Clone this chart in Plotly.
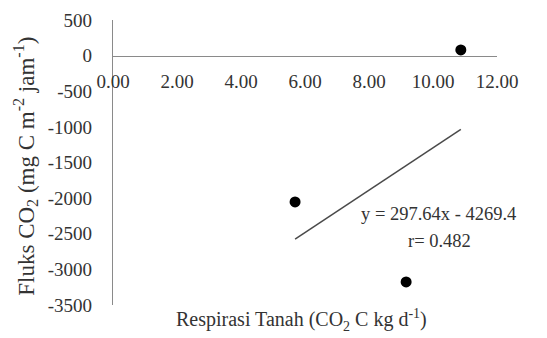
import plotly.graph_objects as go

# Data
respirasi = [10.87, 5.69, 9.16]          # x: Respirasi Tanah (CO2 C kg d-1)
fluks = [80, -2054, -3176]               # y: Fluks CO2 (mg C m-2 jam-1)
trend_coef = [297.64, -4269.4]           # slope, intercept
r_value = 0.482
x_ticks = [0, 2, 4, 6, 8, 10, 12]
x_tick_labels = ["0.00", "2.00", "4.00", "6.00", "8.00", "10.00", "12.00"]
y_ticks = [500, 0, -500, -1000, -1500, -2000, -2500, -3000, -3500]
y_tick_labels = ["500", "0", "-500", "-1000", "-1500", "-2000", "-2500", "-3000", "-3500"]

FONT = "Liberation Serif, serif"
TXT = "#333333"
AX = "#8a8a8a"

tx = [min(respirasi), max(respirasi)]
ty = [trend_coef[0] * v + trend_coef[1] for v in tx]

fig = go.Figure()
fig.add_trace(go.Scatter(x=tx, y=ty, mode="lines",
                         line=dict(color="#4a4a4a", width=1.5),
                         hoverinfo="skip", showlegend=False))
fig.add_trace(go.Scatter(x=respirasi, y=fluks, mode="markers",
                         marker=dict(color="black", size=11),
                         showlegend=False, cliponaxis=False))

y_min, y_max = -3500, 500
zero_pos = (0 - y_min) / (y_max - y_min)

fig.update_layout(
    template="none",
    width=547, height=338,
    margin=dict(l=113, r=50, t=20, b=33, autoexpand=False),
    paper_bgcolor="white", plot_bgcolor="white",
    font=dict(family=FONT, size=19, color=TXT),
    xaxis=dict(range=[0, 12], tickmode="array", tickvals=x_ticks, ticktext=x_tick_labels,
               anchor="free", position=zero_pos, automargin=False,
               showline=True, linecolor=AX, linewidth=1.3,
               showgrid=False, zeroline=False,
               ticks="outside", ticklen=8, tickcolor="rgba(0,0,0,0)",
               tickfont=dict(family=FONT, size=19, color=TXT)),
    yaxis=dict(range=[y_min, y_max], tickmode="array", tickvals=y_ticks, ticktext=y_tick_labels,
               automargin=False,
               showline=True, linecolor=AX, linewidth=1.3,
               showgrid=False, zeroline=False,
               ticks="outside", ticklen=16, tickcolor="rgba(0,0,0,0)",
               tickfont=dict(family=FONT, size=19, color=TXT)),
    annotations=[
        dict(text="Respirasi Tanah (CO<sub>2</sub> C kg d<sup>-1</sup>)",
             xref="paper", yref="paper", x=0.492, y=-0.053,
             xanchor="center", yanchor="middle", showarrow=False,
             font=dict(family=FONT, size=20, color=TXT)),
        dict(text="Fluks CO<sub>2</sub> (mg C m<sup>-2</sup> jam<sup>-1</sup>)",
             xref="paper", yref="paper", x=-0.227, y=0.488, textangle=-90,
             xanchor="center", yanchor="middle", showarrow=False,
             font=dict(family=FONT, size=23, color=TXT)),
        dict(text=f"y = {trend_coef[0]}x - {abs(trend_coef[1])}",
             xref="paper", yref="paper", x=1.055, y=0.32,
             xanchor="right", yanchor="middle", showarrow=False,
             font=dict(family=FONT, size=18.5, color=TXT)),
        dict(text=f"r= {r_value}",
             xref="paper", yref="paper", x=0.85, y=0.225,
             xanchor="center", yanchor="middle", showarrow=False,
             font=dict(family=FONT, size=18.5, color=TXT)),
    ],
)

fig.write_html("out.html", config={"displayModeBar": False},
               post_script="document.body.style.margin='0';document.body.style.padding='0';")
